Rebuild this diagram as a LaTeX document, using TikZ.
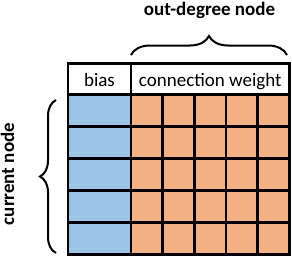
\documentclass[tikz,border=0pt]{standalone}
\usepackage{fontspec}
\setmainfont{Carlito}
\usetikzlibrary{decorations.pathreplacing}
\definecolor{cellblue}{RGB}{157,195,230}
\definecolor{cellorange}{RGB}{244,177,131}
\begin{document}
\begin{tikzpicture}[x=1pt,y=1pt,
  gridline/.style={line width=2.7pt},
  bracestyle/.style={decorate,decoration={brace,amplitude=#1},line width=2pt},
  celltext/.style={font=\fontsize{19}{22}\selectfont, inner sep=0pt},
  titletext/.style={font=\fontsize{19}{22}\selectfont\bfseries, inner sep=0pt}]
\useasboundingbox (0,0) rectangle (292,258);
\fill[cellblue] (68,3.5) rectangle (131,163.5);
\fill[cellorange] (131,3.5) rectangle (289.5,163.5);
\foreach \y in {163.5,131.5,99.5,67.5,35.5} \draw[gridline] (68,\y) -- (289.5,\y);
\draw[gridline] (131,3.5) -- (131,194.5);
\foreach \x in {162.7,194.4,226.1,257.8} \draw[gridline] (\x,3.5) -- (\x,163.5);
\draw[gridline] (68,3.5) rectangle (289.5,194.5);
\node[celltext,anchor=base] (bias) at (99.5,172) {bias};
\node[celltext,anchor=base] (weight) at (210.25,172) {connection weight};
\node[titletext,anchor=base] (out) at (209.5,243) {out-degree node};
\node[titletext,anchor=base,rotate=90] (cur) at (14,84) {current node};
\coordinate (tb1) at (131,203);
\coordinate (tb2) at (287,203);
\draw[bracestyle=19pt] (tb1) -- (tb2);
\coordinate (lb1) at (56,5);
\coordinate (lb2) at (56,158);
\draw[bracestyle=16pt] (lb1) -- (lb2);
\end{tikzpicture}
\end{document}
